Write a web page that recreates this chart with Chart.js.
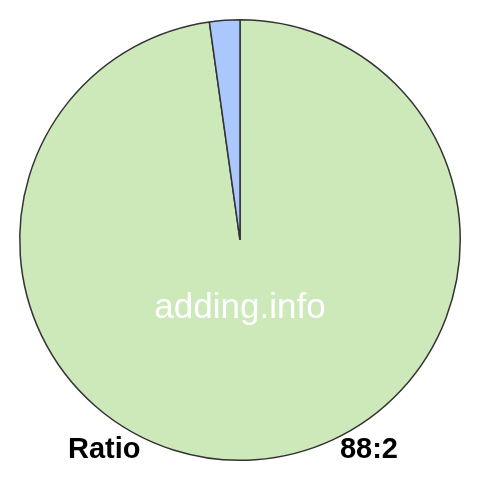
<!DOCTYPE html>
<html>
<head>
<meta charset="utf-8">
<script src="https://cdn.jsdelivr.net/npm/chart.js@4"></script>
<style>
  html, body { margin: 0; padding: 0; background: #fff; }
  #wrap { width: 480px; height: 480px; position: relative; }
</style>
</head>
<body>
<div id="wrap"><canvas id="ratioChart" width="480" height="480"></canvas></div>
<script>
const labels = ['88', '2'];
const values = [88, 2];
const sliceColors = ['#cde8b9', '#abc8fe'];
const centerText = 'adding.info';
const leftText = 'Ratio';
const rightText = '88:2';

// draws the watermark and the bottom captions
const textPlugin = {
  id: 'ratioText',
  afterDraw(chart) {
    const ctx = chart.ctx;
    ctx.save();
    ctx.textBaseline = 'middle';
    ctx.fillStyle = '#ffffff';
    ctx.font = '35px "Liberation Sans", Arial, sans-serif';
    ctx.textAlign = 'center';
    ctx.fillText(centerText, 240, 308);

    ctx.fillStyle = '#000000';
    ctx.font = 'bold 29px "Liberation Sans", Arial, sans-serif';
    ctx.textAlign = 'left';
    ctx.fillText(leftText, 68, 450);
    ctx.textAlign = 'right';
    ctx.fillText(rightText, 398, 450);
    ctx.restore();
  }
};

new Chart(document.getElementById('ratioChart').getContext('2d'), {
  type: 'pie',
  data: {
    labels: labels,
    datasets: [{
      data: values,
      backgroundColor: sliceColors,
      borderColor: '#333333',
      borderWidth: 1.5
    }]
  },
  options: {
    responsive: false,
    animation: false,
    layout: { padding: 19 },
    plugins: {
      legend: { display: false },
      tooltip: { enabled: false }
    }
  },
  plugins: [textPlugin]
});
</script>
</body>
</html>
